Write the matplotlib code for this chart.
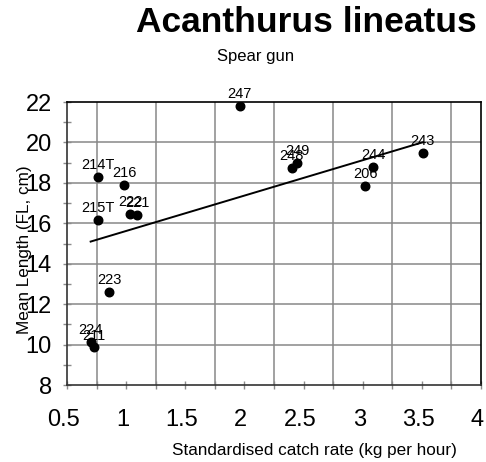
import numpy as np
import matplotlib.pyplot as plt
from matplotlib.ticker import MultipleLocator, FixedLocator
from matplotlib.transforms import ScaledTranslation

plt.rcParams['font.family'] = ['Liberation Sans', 'DejaVu Sans']

# site labels and values
sites = ['214T', '216', '215T', '222', '221', '248', '249', '244', '206', '243',
         '247', '223', '224', '211']
catch_rate = [0.765, 0.982, 0.765, 1.033, 1.094, 2.399, 2.447, 3.089, 3.022, 3.509,
              1.962, 0.855, 0.700, 0.731]
mean_length = [18.30, 17.88, 16.17, 16.46, 16.42, 18.72, 19.00, 18.77, 17.83, 19.46,
               21.82, 12.59, 10.13, 9.86]

# trend line as drawn in the reference
trend_slope = 1.75
trend_intercept = 13.87

x_ticks = [0.5, 1, 1.5, 2, 2.5, 3, 3.5, 4]
y_ticks = [8, 10, 12, 14, 16, 18, 20, 22]
x_grid = [0.75, 1.25, 1.75, 2.25, 2.75, 3.25, 3.75]

fig = plt.figure(figsize=(4.86, 4.62), dpi=100)
ax = fig.add_axes([67 / 486, 1 - 385 / 462, (481 - 67) / 486, (385 - 102) / 462])

ax.set_xlim(0.5, 4)
ax.set_ylim(8, 22)

# grid lines
for gx in x_grid:
    ax.axvline(gx, color='#878787', lw=1.1, zorder=0)
for gy in y_ticks[1:-1]:
    ax.axhline(gy, color='#878787', lw=1.1, zorder=0)

ax.scatter(catch_rate, mean_length, s=38, color='black', zorder=3)
for s, x, y in zip(sites, catch_rate, mean_length):
    ax.annotate(s, (x, y), xytext=(0, 3.5), textcoords='offset points',
                ha='center', va='bottom', fontsize=10.5, zorder=4)

tx = np.array([min(catch_rate), max(catch_rate)])
ax.plot(tx, trend_slope * tx + trend_intercept, color='black', lw=1.4, zorder=2)

ax.xaxis.set_major_locator(FixedLocator(x_ticks))
ax.xaxis.set_minor_locator(MultipleLocator(0.25))
ax.yaxis.set_major_locator(FixedLocator(y_ticks))
ax.yaxis.set_minor_locator(MultipleLocator(1))
ax.set_xticklabels(['0.5', '1', '1.5', '2', '2.5', '3', '3.5', '4'])
ax.set_yticklabels([str(v) for v in y_ticks])
ax.tick_params(which='both', direction='inout', length=6, width=1, color='#8c8c8c')
ax.tick_params(axis='y', which='both', left=True, right=False)
ax.tick_params(axis='x', which='both', bottom=True, top=False)
ax.tick_params(axis='y', which='major', labelsize=17, pad=8)
ax.tick_params(axis='x', which='major', labelsize=17, pad=14)

# excel puts the x labels a little left of their ticks
shift = ScaledTranslation(-3.5 / 100, 0, fig.dpi_scale_trans)
for lab in ax.get_xticklabels():
    lab.set_transform(lab.get_transform() + shift)

for sp in ax.spines.values():
    sp.set_color('black')
    sp.set_linewidth(1.2)
ax.spines['left'].set_color('#333333')
ax.spines['bottom'].set_color('#333333')

fig.text(306 / 486, 1 - 22 / 462, 'Acanthurus lineatus', ha='center', va='center',
         fontsize=25.5, fontweight='bold')
fig.text(256 / 486, 1 - 56 / 462, 'Spear gun', ha='center', va='center', fontsize=12)
fig.text(314 / 486, 1 - 450 / 462, 'Standardised catch rate (kg per hour)',
         ha='center', va='center', fontsize=12.3)
fig.text(25 / 486, 1 - 250 / 462, 'Mean Length (FL, cm)', ha='center', va='center',
         rotation=90, fontsize=12.3)

fig.savefig('out.png', dpi=100)
